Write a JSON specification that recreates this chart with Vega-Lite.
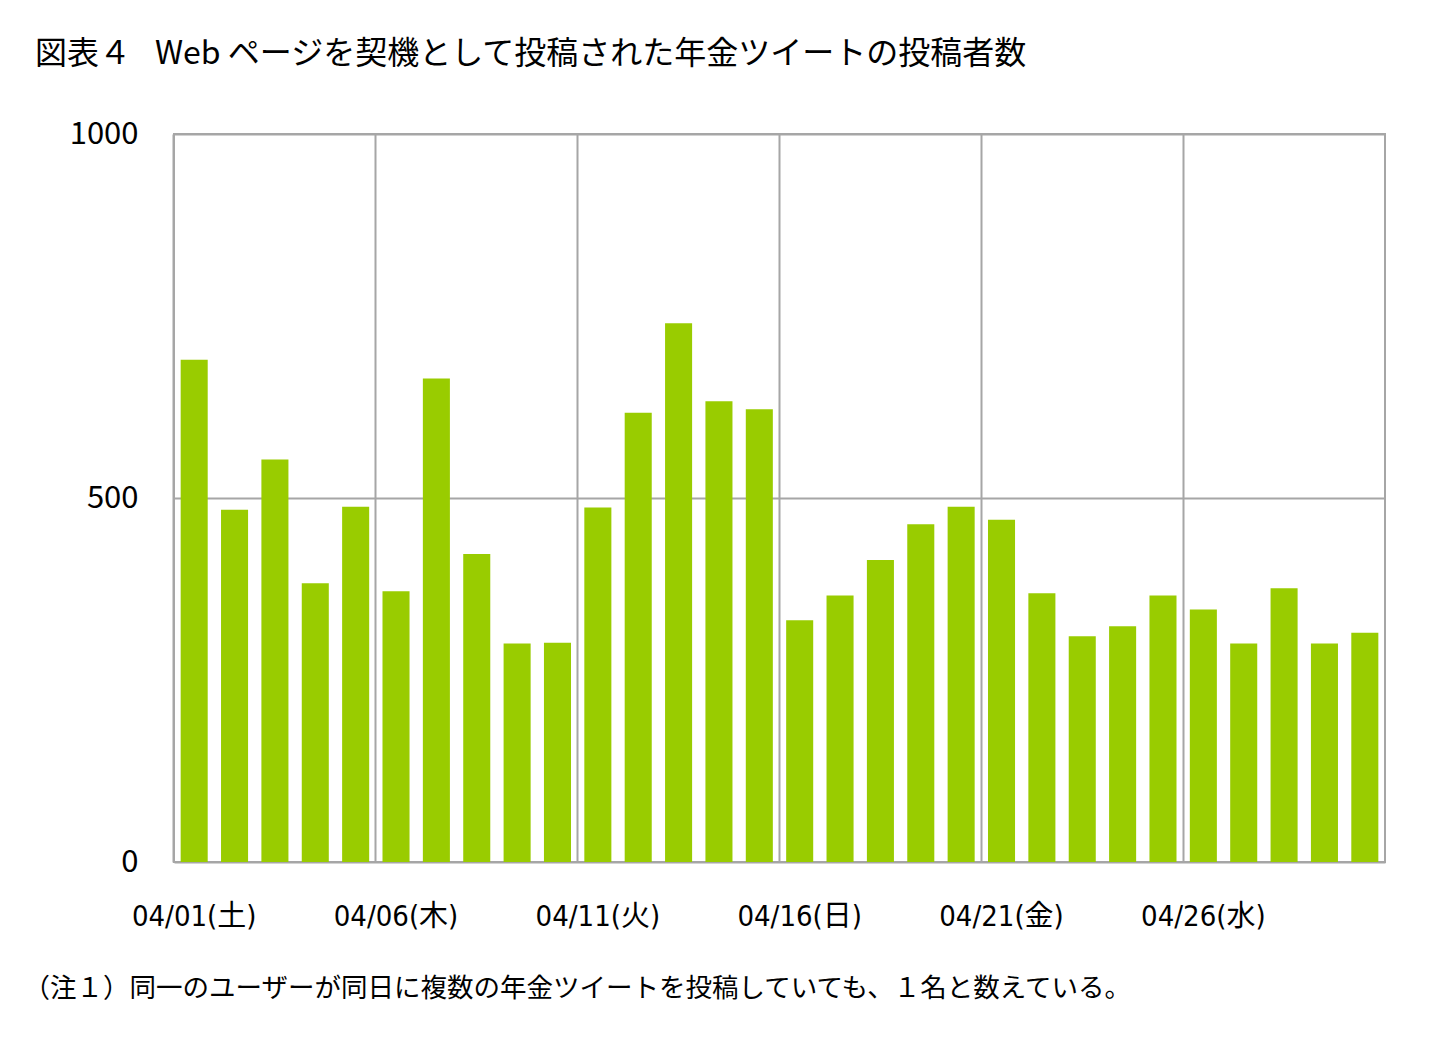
{
  "$schema": "https://vega.github.io/schema/vega-lite/v6.json",
  "autosize": {"type": "none"},
  "width": 1211,
  "height": 728,
  "padding": {"left": 174, "top": 134, "right": 71, "bottom": 175},
  "background": "white",
  "title": {
    "text": "図表４\u2002\u2005Web ページを契機として投稿された年金ツイートの投稿者数",
    "anchor": "start",
    "frame": "group",
    "dx": -139,
    "offset": 32,
    "font": "Noto Sans CJK JP",
    "fontSize": 32,
    "fontWeight": "normal",
    "color": "#000000",
    "baseline": "middle"
  },
  "data": {
    "values": [
      {"date": "04/01(土)", "count": 690},
      {"date": "04/02(日)", "count": 484},
      {"date": "04/03(月)", "count": 553},
      {"date": "04/04(火)", "count": 383},
      {"date": "04/05(水)", "count": 488},
      {"date": "04/06(木)", "count": 372},
      {"date": "04/07(金)", "count": 664},
      {"date": "04/08(土)", "count": 423},
      {"date": "04/09(日)", "count": 300},
      {"date": "04/10(月)", "count": 301},
      {"date": "04/11(火)", "count": 487},
      {"date": "04/12(水)", "count": 617},
      {"date": "04/13(木)", "count": 740},
      {"date": "04/14(金)", "count": 633},
      {"date": "04/15(土)", "count": 622},
      {"date": "04/16(日)", "count": 332},
      {"date": "04/17(月)", "count": 366},
      {"date": "04/18(火)", "count": 415},
      {"date": "04/19(水)", "count": 464},
      {"date": "04/20(木)", "count": 488},
      {"date": "04/21(金)", "count": 470},
      {"date": "04/22(土)", "count": 369},
      {"date": "04/23(日)", "count": 310},
      {"date": "04/24(月)", "count": 324},
      {"date": "04/25(火)", "count": 366},
      {"date": "04/26(水)", "count": 347},
      {"date": "04/27(木)", "count": 300},
      {"date": "04/28(金)", "count": 376},
      {"date": "04/29(土)", "count": 300},
      {"date": "04/30(日)", "count": 315}
    ]
  },
  "mark": {"type": "bar", "color": "#99CC00"},
  "encoding": {
    "x": {
      "field": "date",
      "type": "ordinal",
      "sort": null,
      "scale": {"paddingInner": 0.33, "paddingOuter": 0.165},
      "axis": {
        "values": ["04/01(土)", "04/06(木)", "04/11(火)", "04/16(日)", "04/21(金)", "04/26(水)"],
        "bandPosition": -0.248,
        "grid": true,
        "gridColor": "#A6A6A6",
        "gridWidth": 2,
        "ticks": false,
        "domain": false,
        "labelAngle": 0,
        "labelAlign": "center",
        "labelOffset": 0,
        "labelPadding": 54,
        "labelBaseline": "middle",
        "labelFont": "Liberation Sans Narrow, DejaVu Sans Condensed, Noto Sans CJK JP",
        "labelFontSize": 29,
        "labelColor": "#000000",
        "title": "（注１）同一のユーザーが同日に複数の年金ツイートを投稿していても、１名と数えている。",
        "titleFont": "Noto Sans CJK JP",
        "titleFontSize": 26.5,
        "titleFontWeight": "normal",
        "titleColor": "#000000",
        "titleAnchor": "start",
        "titleAlign": "left",
        "titleBaseline": "middle",
        "titleX": -151,
        "titleY": 126
      }
    },
    "y": {
      "field": "count",
      "type": "quantitative",
      "scale": {"domain": [0, 1000], "nice": false},
      "axis": {
        "values": [0, 500, 1000],
        "format": "d",
        "grid": true,
        "gridColor": "#A6A6A6",
        "gridWidth": 2,
        "ticks": false,
        "domain": false,
        "labelPadding": 36,
        "labelFont": "Noto Sans CJK JP",
        "labelFontSize": 31,
        "labelColor": "#000000",
        "title": null
      }
    }
  },
  "config": {
    "view": {"stroke": "#A6A6A6", "strokeWidth": 2}
  }
}
